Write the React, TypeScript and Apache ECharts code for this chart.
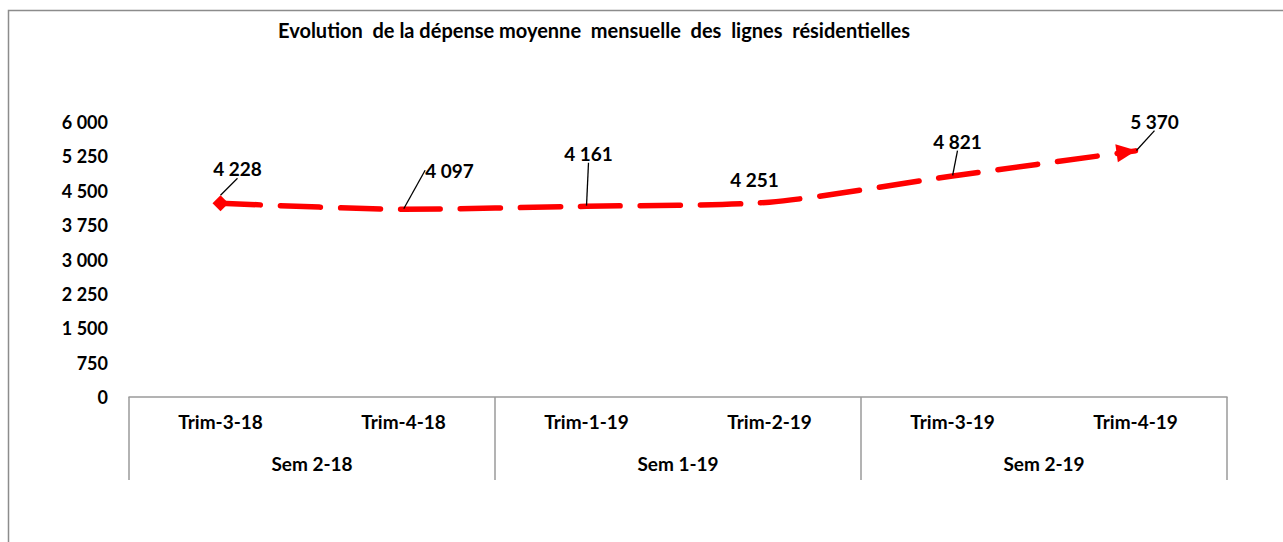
import React, { useEffect, useRef } from "react";
import * as echarts from "echarts";

const TITLE = "Evolution  de la dépense moyenne  mensuelle  des  lignes  résidentielles";
const QUARTERS = ["Trim-3-18", "Trim-4-18", "Trim-1-19", "Trim-2-19", "Trim-3-19", "Trim-4-19"];
const SEMESTERS = ["Sem 2-18", "Sem 1-19", "Sem 2-19"];
const SPENDING = [4228, 4097, 4161, 4251, 4821, 5370];
const Y_MIN = 0;
const Y_MAX = 6000;
const Y_STEP = 750;

// label placement (pixels, relative to default "top" position) — styling only
const LABEL_OFFSETS: [number, number][] = [
  [17, -17],
  [46, -29],
  [2, -43],
  [-15, -13],
  [5, -25],
  [28, -11],
];
const LABEL_LINE = [true, true, true, false, true, true];

const fmt = (v: number) => String(v).replace(/\B(?=(\d{3})+(?!\d))/g, " ");

const FONT = "Lato, 'Open Sans', sans-serif";

export default function App() {
  const ref = useRef<HTMLDivElement>(null);

  useEffect(() => {
    if (!ref.current) return;
    const chart = echarts.init(ref.current, undefined, { renderer: "svg" });
    const last = SPENDING.length - 1;
    chart.setOption({
      animation: false,
      textStyle: { fontFamily: FONT },
      title: {
        text: TITLE,
        left: 273,
        top: 15,
        textStyle: { fontFamily: FONT, fontWeight: "bold", fontSize: 20, color: "#000" },
      },
      graphic: [
        {
          type: "rect",
          silent: true,
          z: -10,
          shape: { x: 8.5, y: 10.5, width: 1400, height: 700 },
          style: { fill: "none", stroke: "#8c8c8c", lineWidth: 1.5 },
        },
      ],
      grid: { left: 129, right: 56, top: 122, bottom: 145 },
      xAxis: [
        {
          type: "category",
          data: QUARTERS,
          position: "bottom",
          boundaryGap: true,
          axisLine: { show: true, lineStyle: { color: "#9a9a9a", width: 1.5 } },
          axisTick: { show: false },
          axisLabel: {
            interval: 0,
            margin: 15,
            fontFamily: FONT,
            fontWeight: "bold",
            fontSize: 19,
            color: "#000",
          },
          splitLine: { show: false },
        },
        {
          type: "category",
          data: SEMESTERS,
          position: "bottom",
          boundaryGap: true,
          axisLine: { show: false },
          axisTick: {
            show: true,
            interval: 0,
            length: 83,
            lineStyle: { color: "#9a9a9a", width: 1.5 },
          },
          axisLabel: {
            interval: 0,
            margin: 57,
            fontFamily: FONT,
            fontWeight: "bold",
            fontSize: 19,
            color: "#000",
          },
          splitLine: { show: false },
        },
      ],
      yAxis: {
        type: "value",
        min: Y_MIN,
        max: Y_MAX,
        interval: Y_STEP,
        axisLine: { show: false },
        axisTick: { show: false },
        splitLine: { show: false },
        axisLabel: {
          margin: 21,
          fontFamily: FONT,
          fontWeight: "bold",
          fontSize: 18,
          color: "#000",
          formatter: (v: number) => fmt(v),
        },
      },
      series: [
        {
          type: "line",
          xAxisIndex: 0,
          smooth: 0.25,
          showSymbol: true,
          itemStyle: { color: "#ff0000" },
          lineStyle: { color: "#ff0000", width: 5.5, type: [40, 20], cap: "round" },
          emphasis: { disabled: true },
          label: {
            show: true,
            position: "top",
            distance: 0,
            fontFamily: FONT,
            fontWeight: "bold",
            fontSize: 19,
            color: "#000",
            formatter: (p: any) => fmt(p.value),
          },
          labelLine: { show: true, lineStyle: { color: "#000", width: 1.3 } },
          labelLayout: (p: any) => ({
            dx: LABEL_OFFSETS[p.dataIndex][0],
            dy: LABEL_OFFSETS[p.dataIndex][1],
          }),
          data: SPENDING.map((v, i) => ({
            value: v,
            symbol: i === 0 ? "diamond" : i === last ? "triangle" : "circle",
            symbolSize: i === 0 ? 16 : i === last ? [18, 20] : 1,
            symbolRotate: i === last ? -82 : 0,
            symbolOffset: i === last ? [-9, 1] : [0, 0],
            labelLine: { show: LABEL_LINE[i] },
          })),
        },
      ],
    });
    return () => chart.dispose();
  }, []);

  return (
    <div
      ref={ref}
      style={{ position: "absolute", left: 0, top: 0, width: 1283, height: 542, background: "#fff" }}
    />
  );
}
